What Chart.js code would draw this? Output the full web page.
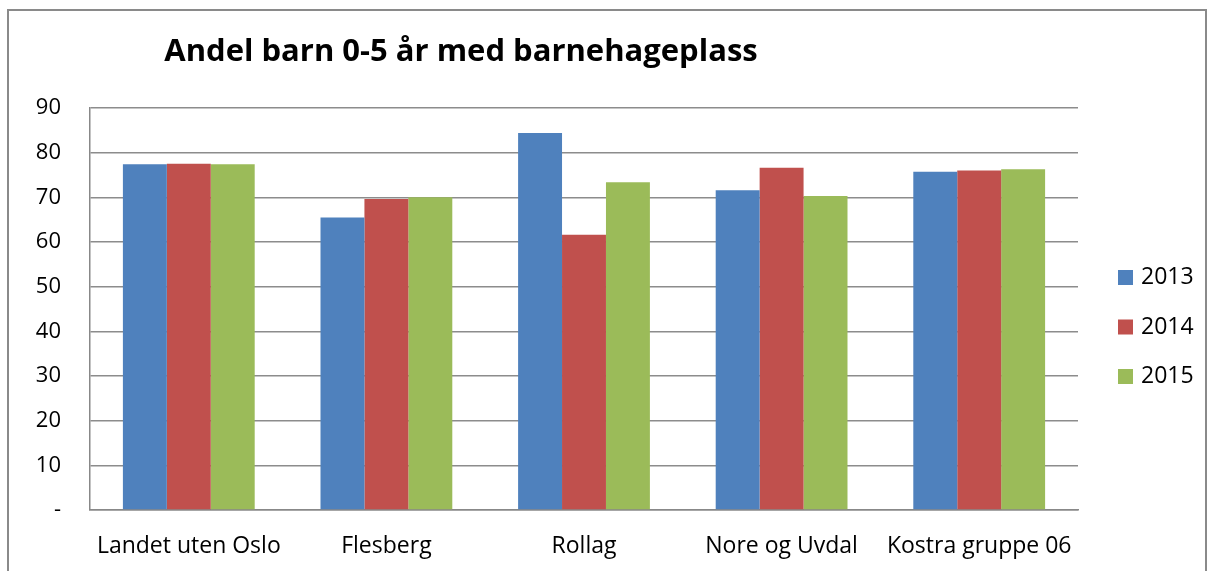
<!DOCTYPE html>
<html>
<head>
<meta charset="utf-8">
<script src="https://cdn.jsdelivr.net/npm/chart.js@4.4.1/dist/chart.umd.min.js"></script>
<style>
	body { margin: 0; background: #fff; }
	#wrap { position: absolute; left: 7px; top: 9px; width: 1196px; height: 560px; border: 2px solid #8a8a8a; }
</style>
</head>
<body>
<div id="wrap"><canvas id="barChart" width="1196" height="560"></canvas></div>
<script>
const chartTitle = "Andel barn 0-5 år med barnehageplass"
const categories = ["Landet uten Oslo", "Flesberg", "Rollag", "Nore og Uvdal", "Kostra gruppe 06"]
const seriesNames = ["2013", "2014", "2015"]
const values2013 = [77.4, 65.5, 84.4, 71.6, 75.7]
const values2014 = [77.5, 69.6, 61.6, 76.6, 76.0]
const values2015 = [77.4, 70.0, 73.4, 70.3, 76.3]
const yTicks = { min: 0, max: 90, step: 10 }

const colors = ["#4F81BD", "#C0504D", "#9BBB59"]

// Title drawn over the chart, left of centre like the Excel original
const titlePlugin = {
	id: "chartTitle",
	afterDraw(chart) {
		const ctx = chart.ctx
		ctx.save()
		ctx.font = "bold 31px 'Open Sans'"
		ctx.fillStyle = "#000"
		ctx.textAlign = "center"
		ctx.textBaseline = "middle"
		ctx.fillText(chartTitle, 452, 41)
		ctx.restore()
	},
}

// Simple legend on the right side, built from the datasets
const legendPlugin = {
	id: "sideLegend",
	afterDraw(chart) {
		const ctx = chart.ctx
		const area = chart.chartArea
		const midY = (area.top + area.bottom) / 2 + 18
		ctx.save()
		ctx.font = "23px 'Open Sans'"
		ctx.textBaseline = "middle"
		chart.data.datasets.forEach((ds, i) => {
			const y = midY + (i - 1) * 49.5
			ctx.fillStyle = ds.backgroundColor
			ctx.fillRect(area.right + 40, y - 7.5, 15, 15)
			ctx.fillStyle = "#000"
			ctx.fillText(ds.label, area.right + 63, y)
		})
		ctx.restore()
	},
}

document.addEventListener("DOMContentLoaded", function () {
	Chart.defaults.font.family = "'Open Sans'"
	Chart.defaults.color = "#000"

	const ctx = document.getElementById("barChart").getContext("2d")
	new Chart(ctx, {
		type: "bar",
		data: {
			labels: categories,
			datasets: [values2013, values2014, values2015].map((vals, i) => ({
				label: seriesNames[i],
				data: vals,
				backgroundColor: colors[i],
				borderWidth: 0,
				categoryPercentage: 0.667,
				barPercentage: 1.0,
			})),
		},
		options: {
			responsive: false,
			animation: false,
			layout: { padding: { top: 97, right: 127, left: 0, bottom: 0 } },
			plugins: {
				legend: { display: false },
				title: { display: false },
				tooltip: { enabled: false },
			},
			scales: {
				x: {
					grid: { display: false },
					border: { display: true, color: "#888", width: 1.5 },
					ticks: { font: { size: 23 }, padding: 15, maxRotation: 0, autoSkip: false },
					afterFit(scale) { scale.height = 61 },
				},
				y: {
					min: yTicks.min,
					max: yTicks.max,
					grid: { color: "#8c8c8c", lineWidth: 1.5, drawTicks: false },
					border: { display: true, color: "#888", width: 1.5 },
					ticks: {
						stepSize: yTicks.step,
						font: { size: 22 },
						padding: 29,
						callback: (v) => (v === 0 ? "-" : v),
					},
					afterFit(scale) { scale.width = 81 },
				},
			},
		},
		plugins: [titlePlugin, legendPlugin],
	})
})
</script>
</body>
</html>
